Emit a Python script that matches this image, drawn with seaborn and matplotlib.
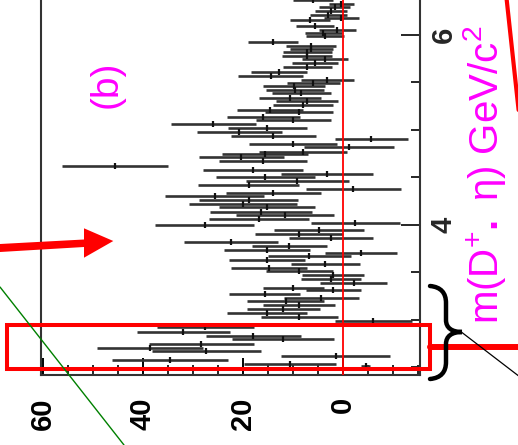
import matplotlib
matplotlib.use("Agg")
import matplotlib.pyplot as plt
import numpy as np
import pandas as pd
import seaborn as sns
from matplotlib.transforms import Affine2D
from matplotlib.lines import Line2D
from matplotlib.patches import Polygon, Rectangle, PathPatch
from matplotlib.path import Path
from matplotlib.ticker import MultipleLocator

# D_s eta invariant-mass spectrum (background subtracted), one entry per mass bin
mass = [6.368, 6.326, 6.292, 6.249, 6.211, 6.174, 6.153, 6.098, 6.056, 6.018, 5.993,
        5.929, 5.887, 5.849, 5.824, 5.782, 5.744, 5.702, 5.660, 5.614, 5.568, 5.526,
        5.492, 5.463, 5.421, 5.386,
        5.340, 5.305, 5.263, 5.214, 5.186, 5.134, 5.108, 5.066, 5.024, 4.982, 4.940,
        4.902, 4.856, 4.818, 4.772, 4.744, 4.716, 4.674, 4.624, 4.582, 4.540, 4.505,
        4.463, 4.421, 4.379,
        4.334, 4.308, 4.266, 4.224, 4.186, 4.140, 4.102, 4.060, 4.018, 3.997, 3.947,
        3.908, 3.866, 3.824, 3.782, 3.737, 3.702, 3.674, 3.632, 3.593, 3.551, 3.513,
        3.471, 3.428, 3.386,
        3.340, 3.319, 3.274, 3.235, 3.197, 3.158, 3.116, 3.074, 3.032, 2.989, 2.926,
        2.877, 2.835, 2.800, 2.751, 2.708, 2.674, 2.624, 2.582, 2.540, 2.519]

events = [5.9, 0.3, 1.6, 2.3, 2.9, 0.3, 6.5, 5.5, 1.1, 3.9, 3.6,
          13.9, 6.3, 6.3, 7.1, 7.1, 3.5, 5.5, 7.1, 12.7, 14.4, 3.1,
          5.9, 9.8, 9.5, 8.3,
          10.6, 7.1, 7.9, 14.6, 8.7, 15.9, 9.9, 25.9, 15.1, 20.7, 13.9,
          -5.7, 9.9, -1.3, 7.9, 15.5, 20.3, 15.9, 45.6, 17.9, 3.1, 15.5,
          9.1, 18.8, -2.1,
          13.9, 25.6, 18.8, 19.9, 15.1, 16.3, 11.5, 16.7, -2.5, 27.6, 4.7,
          8.7, 2.3, 22.4, 10.7, 15.1, -3.7, 6.7, 15.1, 3.5, 14.7, 8.7,
          1.9, 2.3, -2.2,
          9.9, 1.9, 15.6, 4.3, 11.4, 8.7, 11.9, 15.1, 8.7, -6.1, 27.5,
          31.9, 17.9, 11.9, 28.3, 38.6, 27.3, 1.4, 34.5, 10.6, -4.6]

errors = [4.0, 2.5, 3.1, 3.2, 3.7, 3.5, 4.0, 3.8, 3.7, 3.7, 3.8,
          5.0, 5.0, 4.3, 4.9, 5.0, 4.6, 4.6, 4.9, 5.6, 6.5, 5.3,
          5.3, 6.2, 5.8, 5.9,
          6.2, 6.2, 6.0, 6.6, 6.8, 7.3, 7.5, 8.5, 7.9, 8.5, 8.5,
          7.3, 8.8, 9.0, 8.8, 8.6, 8.5, 8.8, 10.6, 10.0, 9.2, 9.9,
          10.3, 10.1, 9.5,
          9.5, 9.9, 9.9, 10.8, 9.6, 10.2, 9.8, 10.0, 8.9, 9.9, 9.0,
          8.8, 8.4, 9.4, 7.5, 8.6, 7.2, 8.3, 7.6, 6.9, 7.6, 6.7,
          6.2, 6.0, 6.7,
          6.1, 5.5, 7.1, 7.5, 7.7, 7.2, 7.3, 8.0, 7.7, 7.7, 9.8,
          9.3, 9.5, 10.2, 10.5, 10.7, 11.0, 10.9, 11.6, 9.2, 0.9]

count_ticks = [0, 20, 40, 60]
count_labels = ["0", "20", "40", "60"]
mass_ticks = [4, 6]
mass_labels = ["4", "6"]
mass_title = r"m(D$^{+}$$\mathbf{.}$ η) GeV/c$^{2}$"
panel_tag = "(b)"

df = pd.DataFrame({"mass": mass, "events": events, "err": errors})

sns.set_style("white")
plt.rcParams["font.family"] = ["Liberation Sans", "DejaVu Sans"]
plt.rcParams["mathtext.fontset"] = "custom"
plt.rcParams["mathtext.rm"] = "Liberation Sans"
plt.rcParams["mathtext.it"] = "Liberation Sans:italic"
plt.rcParams["mathtext.bf"] = "Liberation Sans:bold"

W, H = 518, 445
fig = plt.figure(figsize=(W / 100, H / 100), dpi=100)
fig.patch.set_facecolor("white")
ax = fig.add_axes([41 / W, (H - 375) / H, (420 - 41) / W, 375 / H])

# horizontal error bars on the event counts, short bin marks at the centres
ax.errorbar(df["events"], df["mass"], xerr=df["err"], fmt="none",
            ecolor="#333333", elinewidth=1.9, capsize=0, zorder=2)
sns.scatterplot(data=df, x="events", y="mass", marker="|", s=24,
                color="#111111", linewidth=1.6, legend=False, ax=ax, zorder=3)
ax.axvline(0, color="red", lw=1.3, zorder=4)

ax.set_xlim(60.4, -15.4)
ax.set_ylim(2.421, 6.368)
ax.set_xlabel("")

ax.set_xticks(count_ticks)
ax.set_xticklabels(count_labels, rotation=90, fontweight="bold", fontsize=21)
ax.xaxis.set_minor_locator(MultipleLocator(5))
ax.yaxis.tick_right()
ax.set_yticks(mass_ticks)
ax.set_yticklabels(mass_labels, rotation=90, fontweight="bold", fontsize=21,
                   va="center")
ax.yaxis.set_minor_locator(MultipleLocator(0.5))

ax.tick_params(axis="x", which="major", direction="in", length=12, width=1.4,
               pad=16, bottom=True, top=False, colors="black")
ax.tick_params(axis="x", which="minor", direction="in", length=7, width=1.4,
               bottom=True, top=False)
ax.tick_params(axis="y", which="major", direction="in", length=14, width=1.4,
               pad=7, right=True, left=False, labelright=True, labelleft=False)
ax.tick_params(axis="y", which="minor", direction="in", length=6.5, width=1.4,
               right=True, left=False)

for side in ("left", "right", "bottom"):
    ax.spines[side].set_linewidth(1.5)
    ax.spines[side].set_color("#333333")
ax.spines["top"].set_visible(False)

ax.yaxis.set_label_position("right")
ax.set_ylabel(mass_title, color="magenta", fontsize=29, rotation=90)
ax.yaxis.set_label_coords((485 - 41) / 379, (375 - 175) / 375)
ax.yaxis.label.set_ha("center")
ax.yaxis.label.set_va("center")

# pixel-based transform for the slide markup drawn over the figure
px = Affine2D().scale(1 / W, -1 / H).translate(0, 1) + fig.transFigure

fig.text(107, 84, panel_tag, transform=px, rotation=90, ha="center",
         va="center", color="magenta", fontsize=28)

fig.add_artist(Rectangle((7, 325.3), 423, 43.7, transform=px, fill=False,
                         edgecolor="red", lw=2.9, zorder=5))
fig.add_artist(Line2D([430, 520], [347, 347], transform=px, color="red",
                      lw=4.3, zorder=5))
fig.add_artist(Line2D([506.5, 518.6], [-2, 110], transform=px, color="red",
                      lw=3.0, zorder=5))
fig.add_artist(Line2D([0, 124], [287, 445], transform=px, color="green",
                      lw=1.0, zorder=5))
fig.add_artist(Line2D([460, 520], [331, 377], transform=px, color="black",
                      lw=0.9, zorder=5))
fig.add_artist(Polygon([(0, 244), (84, 239.5), (84, 228.3), (113.3, 241),
                        (84, 257.7), (84, 247), (0, 252)], closed=True,
                       transform=px, facecolor="red", edgecolor="none",
                       zorder=5))

brace = Path(
    [(430, 286), (441, 287), (446, 293), (446, 303),
     (446, 320),
     (446, 328), (452, 332), (462, 332),
     (452, 332), (446, 336), (446, 344),
     (446, 362),
     (446, 372), (441, 378), (430, 379)],
    [Path.MOVETO, Path.CURVE4, Path.CURVE4, Path.CURVE4,
     Path.LINETO,
     Path.CURVE4, Path.CURVE4, Path.CURVE4,
     Path.CURVE4, Path.CURVE4, Path.CURVE4,
     Path.LINETO,
     Path.CURVE4, Path.CURVE4, Path.CURVE4])
fig.add_artist(PathPatch(brace, transform=px, fill=False, edgecolor="black",
                         lw=3.2, capstyle="round", zorder=6))

fig.savefig("out.png", dpi=100, facecolor="white")
